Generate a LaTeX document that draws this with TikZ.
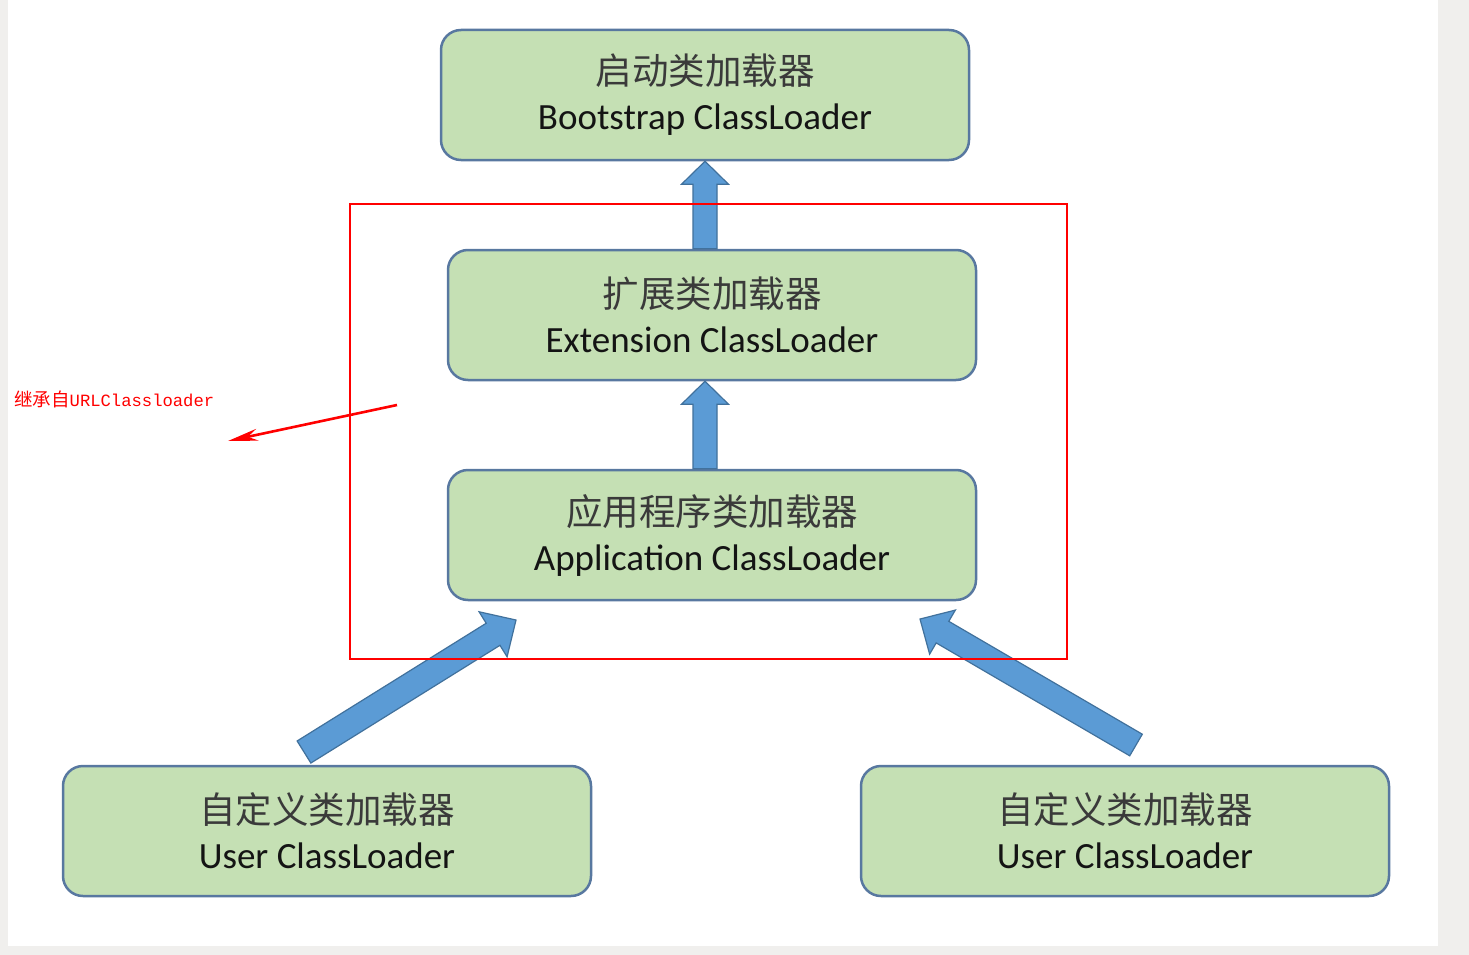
\documentclass[tikz,border=0pt]{standalone}
\usepackage{fontspec}
\setmainfont{Carlito}
\newfontfamily\cjk{Noto Sans CJK SC}
\newfontfamily\notemono{Liberation Mono}
\usetikzlibrary{calc,arrows.meta}
\definecolor{bggray}{HTML}{F0EFED}
\definecolor{boxfill}{HTML}{C5E0B4}
\definecolor{boxline}{HTML}{5878A0}
\definecolor{arrfill}{HTML}{5B9BD5}
\definecolor{arrline}{HTML}{41719C}
\definecolor{cjkgray}{HTML}{3A3A3A}
\tikzset{
  loader/.style={draw=boxline, line width=2.5pt, fill=boxfill, rounded corners=20pt,
    minimum width=528pt, minimum height=130pt, inner sep=0pt, align=center,
    font=\fontsize{37}{45}\selectfont, text=black!92},
  blockarrow/.style={fill=arrfill, draw=arrline, line width=1.2pt, line join=miter},
  redbox/.style={draw=red, line width=2.4pt},
  redarrow/.style={draw=red, line width=2.6pt, -{Stealth[length=30pt,width=12pt]}},
  note/.style={text=red, anchor=west, inner sep=0pt}
}
% tail, tip, shaft width, head width, head length
\newcommand\blockarr[5]{%
  \path let \p1=($(#2)-(#1)$), \n1={veclen(\x1,\y1)}, \n2={atan2(\y1,\x1)} in
    \pgfextra{\xdef\bal{\n1}\xdef\baa{\n2}};
  \begin{scope}[shift={(#1)}, rotate=\baa]
    \draw[blockarrow] (0pt,{-#3pt/2}) -- ({\bal*1pt-#5pt},{-#3pt/2}) -- ({\bal*1pt-#5pt},{-#4pt/2})
      -- ({\bal*1pt},0pt) -- ({\bal*1pt-#5pt},{#4pt/2}) -- ({\bal*1pt-#5pt},{#3pt/2}) -- (0pt,{#3pt/2}) -- cycle;
  \end{scope}}
\newcommand\cjkline[1]{{\cjk\fontsize{36.5}{45}\selectfont\color{cjkgray}#1}}
\begin{document}
\begin{tikzpicture}[x=1pt,y=-1pt]
  \useasboundingbox (0,0) rectangle (1469,955);
  \fill[bggray] (0,0) rectangle (1469,955);
  \fill[white] (8,0) rectangle (1438,946);

  \node[loader] (boot) at (705,95) {\cjkline{启动类加载器}\\Bootstrap ClassLoader};
  \node[loader] (ext) at (712,315) {\cjkline{扩展类加载器}\\Extension ClassLoader};
  \node[loader] (app) at (712,535) {\cjkline{应用程序类加载器}\\Application ClassLoader};
  \node[loader] (ul) at (327,831) {\cjkline{自定义类加载器}\\User ClassLoader};
  \node[loader] (ur) at (1125,831) {\cjkline{自定义类加载器}\\User ClassLoader};

  \coordinate (a1t) at (boot.south |- ext.north);
  \coordinate (a2t) at (boot.south |- app.north);
  \coordinate (a2h) at (boot.south |- ext.south);
  \blockarr{a1t}{boot.south}{24}{47}{23}
  \blockarr{a2t}{a2h}{24}{47}{23}

  \coordinate (lt) at (304,752);
  \coordinate (lh) at (516,620);
  \coordinate (rt) at (1136,745);
  \coordinate (rh) at (920,619);
  \blockarr{lt}{lh}{26}{53}{27}
  \blockarr{rt}{rh}{25}{51}{26}

  \draw[redbox] (350,204) rectangle (1067,659);
  \coordinate (ras) at (397,405);
  \coordinate (rae) at (228,441);
  \draw[redarrow] (ras) -- (rae);
  \node[note] (note) at (14,399) {{\cjk\fontsize{18.5}{20}\selectfont 继承自}{\notemono\fontsize{17.2}{20}\selectfont URLClassloader}};
\end{tikzpicture}
\end{document}
